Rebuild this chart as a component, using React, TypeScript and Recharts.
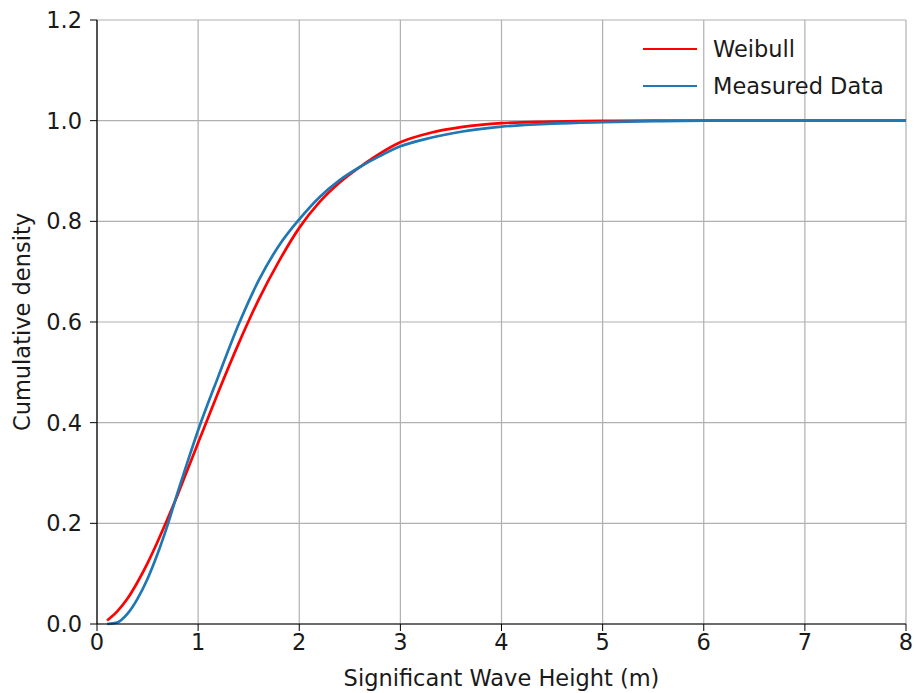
import React from 'react';
import { LineChart, Line, XAxis, YAxis, CartesianGrid, Label } from 'recharts';

// wave height (m) sample points
const waveHeight = [
  0.1, 0.2, 0.3, 0.4, 0.5, 0.6, 0.7, 0.8, 0.9, 1.0,
  1.2, 1.4, 1.6, 1.8, 2.0, 2.2, 2.4, 2.6, 2.8, 3.0,
  3.3, 3.6, 4.0, 4.5, 5.0, 5.5, 6.0, 7.0, 8.0,
];
const weibull = [
  0.007, 0.025, 0.05, 0.083, 0.121, 0.164, 0.21, 0.258, 0.309, 0.36,
  0.461, 0.557, 0.645, 0.721, 0.787, 0.838, 0.877, 0.908, 0.935, 0.957,
  0.976, 0.987, 0.995, 0.998, 0.9997, 1, 1, 1, 1,
];
const measured = [
  0, 0.003, 0.02, 0.05, 0.09, 0.14, 0.198, 0.263, 0.325, 0.385,
  0.492, 0.595, 0.683, 0.752, 0.804, 0.848, 0.882, 0.908, 0.93, 0.949,
  0.966, 0.978, 0.988, 0.994, 0.997, 0.999, 1, 1, 1,
];
const seriesNames = ['Weibull', 'Measured Data'];
const xTicks = [0, 1, 2, 3, 4, 5, 6, 7, 8];
const yTicks = [0, 0.2, 0.4, 0.6, 0.8, 1.0, 1.2];

const RED = '#ff0000';
const BLUE = '#1f77b4';
const FONT = '"DejaVu Sans", sans-serif';
const TEXT = '#1a1a1a';
const FS = 22.5;

const chartData = waveHeight.map((h, i) => ({ h, weibull: weibull[i], measured: measured[i] }));

function LegendBox() {
  const colors = [RED, BLUE];
  return (
    <div style={{ position: 'absolute', left: 643, top: 30, fontFamily: FONT, fontSize: FS, color: TEXT }}>
      {seriesNames.map((name, i) => (
        <div key={name} style={{ display: 'flex', alignItems: 'center', height: 37 }}>
          <span style={{ display: 'inline-block', width: 54, height: 0, borderTop: `2.7px solid ${colors[i]}`, marginRight: 16 }} />
          {name}
        </div>
      ))}
    </div>
  );
}

export default function App() {
  const tick = { fontSize: FS, fill: TEXT, fontFamily: FONT };
  return (
    <div style={{ position: 'absolute', left: 0, top: 0, width: 916, height: 693, background: '#fff' }}>
      <LineChart width={916} height={693} data={chartData} margin={{ top: 20, right: 10, left: 0, bottom: 0 }}>
        <CartesianGrid stroke="#b0b0b0" strokeWidth={1.2} />
        <XAxis
          dataKey="h"
          type="number"
          domain={[0, 8]}
          ticks={xTicks}
          allowDataOverflow
          tick={tick}
          tickLine={{ stroke: '#000' }}
          tickSize={7}
          tickMargin={3}
          axisLine={{ stroke: '#000', strokeWidth: 1.2 }}
          height={69}
        >
          <Label
            value="Significant Wave Height (m)"
            position="insideBottom"
            offset={7}
            style={{ fontSize: FS, fill: TEXT, fontFamily: FONT }}
          />
        </XAxis>
        <XAxis xAxisId="top" orientation="top" dataKey="h" type="number" domain={[0, 8]} tick={false} tickLine={false} height={0} axisLine={{ stroke: '#000', strokeWidth: 1.2 }} />
        <YAxis
          type="number"
          domain={[0, 1.2]}
          ticks={yTicks}
          tickFormatter={(v: number) => v.toFixed(1)}
          tick={tick}
          tickLine={{ stroke: '#000' }}
          tickSize={7}
          tickMargin={8}
          axisLine={{ stroke: '#000', strokeWidth: 1.2 }}
          width={97}
        >
          <Label
            content={(props: any) => {
              const vb = props.viewBox || {};
              const cy = (vb.y ?? 20) + (vb.height ?? 604) / 2;
              const cx = 22;
              return (
                <text
                  x={cx}
                  y={cy}
                  transform={`rotate(-90 ${cx} ${cy})`}
                  textAnchor="middle"
                  dominantBaseline="central"
                  style={{ fontSize: FS, fill: TEXT, fontFamily: FONT }}
                >
                  Cumulative density
                </text>
              );
            }}
          />
        </YAxis>
        <YAxis yAxisId="right" orientation="right" type="number" domain={[0, 1.2]} tick={false} tickLine={false} width={0} axisLine={{ stroke: '#000', strokeWidth: 1.2 }} />
        <Line
          type="monotone"
          dataKey="weibull"
          name={seriesNames[0]}
          stroke={RED}
          strokeWidth={2.7}
          dot={false}
          isAnimationActive={false}
        />
        <Line
          type="monotone"
          dataKey="measured"
          name={seriesNames[1]}
          stroke={BLUE}
          strokeWidth={2.7}
          dot={false}
          isAnimationActive={false}
        />
      </LineChart>
      <LegendBox />
    </div>
  );
}
